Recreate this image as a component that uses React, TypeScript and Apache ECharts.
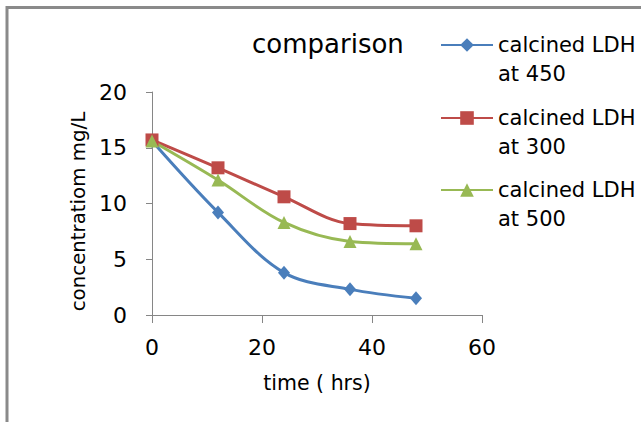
import React, { useEffect, useRef } from "react";
import * as echarts from "echarts";

const timeHrs = [0, 12, 24, 36, 48];
const ldh450 = [15.6, 9.2, 3.8, 2.3, 1.5];
const ldh300 = [15.7, 13.2, 10.6, 8.2, 8.0];
const ldh500 = [15.6, 12.1, 8.3, 6.6, 6.4];
const seriesNames = ["calcined LDH at 450", "calcined LDH at 300", "calcined LDH at 500"];
const legendLine1 = ["calcined LDH", "calcined LDH", "calcined LDH"];
const legendLine2 = ["at 450", "at 300", "at 500"];
const colors = ["#4A7EBB", "#BE4B48", "#98B954"];
const symbols = ["diamond", "rect", "triangle"];
const titleText = "comparison";
const xName = "time ( hrs)";
const yName = "concentratiom mg/L";

const FONT = "DejaVu Sans";

export default function App() {
  const ref = useRef<HTMLDivElement>(null);
  useEffect(() => {
    if (!ref.current) return;
    const chart = echarts.init(ref.current, undefined, { renderer: "svg" });
    const allData = [ldh450, ldh300, ldh500];
    const L = 29;
    const iconCenters = [45, 118, 190];
    chart.setOption({
      animation: false,
      backgroundColor: "#ffffff",
      textStyle: { fontFamily: FONT },
      title: {
        text: titleText,
        left: 247,
        top: 26,
        textStyle: { fontFamily: FONT, fontSize: 26, fontWeight: "normal", color: "#000" },
      },
      legend: seriesNames.map((n, i) => ({
        data: [n],
        left: 440,
        top: iconCenters[i] - 1.5 * L,
        padding: 0,
        itemWidth: 52,
        itemHeight: 17,
        itemGap: 5,
        formatter: () => " \n" + legendLine1[i] + "\n" + legendLine2[i],
        textStyle: {
          fontFamily: FONT,
          fontSize: 21,
          color: "#000",
          lineHeight: L,
          backgroundColor: "rgba(0,0,0,0)",
        },
      })),
      grid: { left: 152, right: 159, top: 92, bottom: 107, containLabel: false },
      xAxis: {
        type: "value",
        min: 0,
        max: 60,
        interval: 20,
        name: xName,
        nameLocation: "middle",
        nameGap: 57,
        nameTextStyle: { fontFamily: FONT, fontSize: 20.5, color: "#000" },
        axisLine: { show: true, lineStyle: { color: "#868686", width: 1 } },
        axisTick: { show: true, length: 8, lineStyle: { color: "#868686" } },
        axisLabel: { fontFamily: FONT, fontSize: 22, color: "#000", margin: 21 },
        splitLine: { show: false },
      },
      yAxis: {
        type: "value",
        min: 0,
        max: 20,
        interval: 5,
        name: yName,
        nameLocation: "middle",
        nameGap: 51,
        nameTextStyle: { fontFamily: FONT, fontSize: 19.8, color: "#000", padding: [0, 16, 0, 0] },
        axisLine: { show: true, lineStyle: { color: "#868686", width: 1 } },
        axisTick: { show: true, length: 6, lineStyle: { color: "#868686" } },
        axisLabel: { fontFamily: FONT, fontSize: 22, color: "#000", margin: 25 },
        splitLine: { show: false },
      },
      graphic: [
        {
          type: "rect",
          shape: { x: 7, y: 7.5, width: 700, height: 500 },
          style: { fill: "none", stroke: "#8a8a8a", lineWidth: 3 },
          silent: true,
        },
      ],
      series: allData.map((d, i) => ({
        name: seriesNames[i],
        type: "line",
        data: timeHrs.map((t, j) => [t, d[j]]),
        smooth: 0.35,
        symbol: symbols[i],
        symbolSize: i === 0 ? [12, 14] : 13,
        lineStyle: { color: colors[i], width: 3 },
        itemStyle: { color: colors[i] },
      })),
    });
    return () => chart.dispose();
  }, []);
  return (
    <div
      ref={ref}
      style={{ position: "absolute", left: 0, top: 0, width: 641, height: 422 }}
    />
  );
}
